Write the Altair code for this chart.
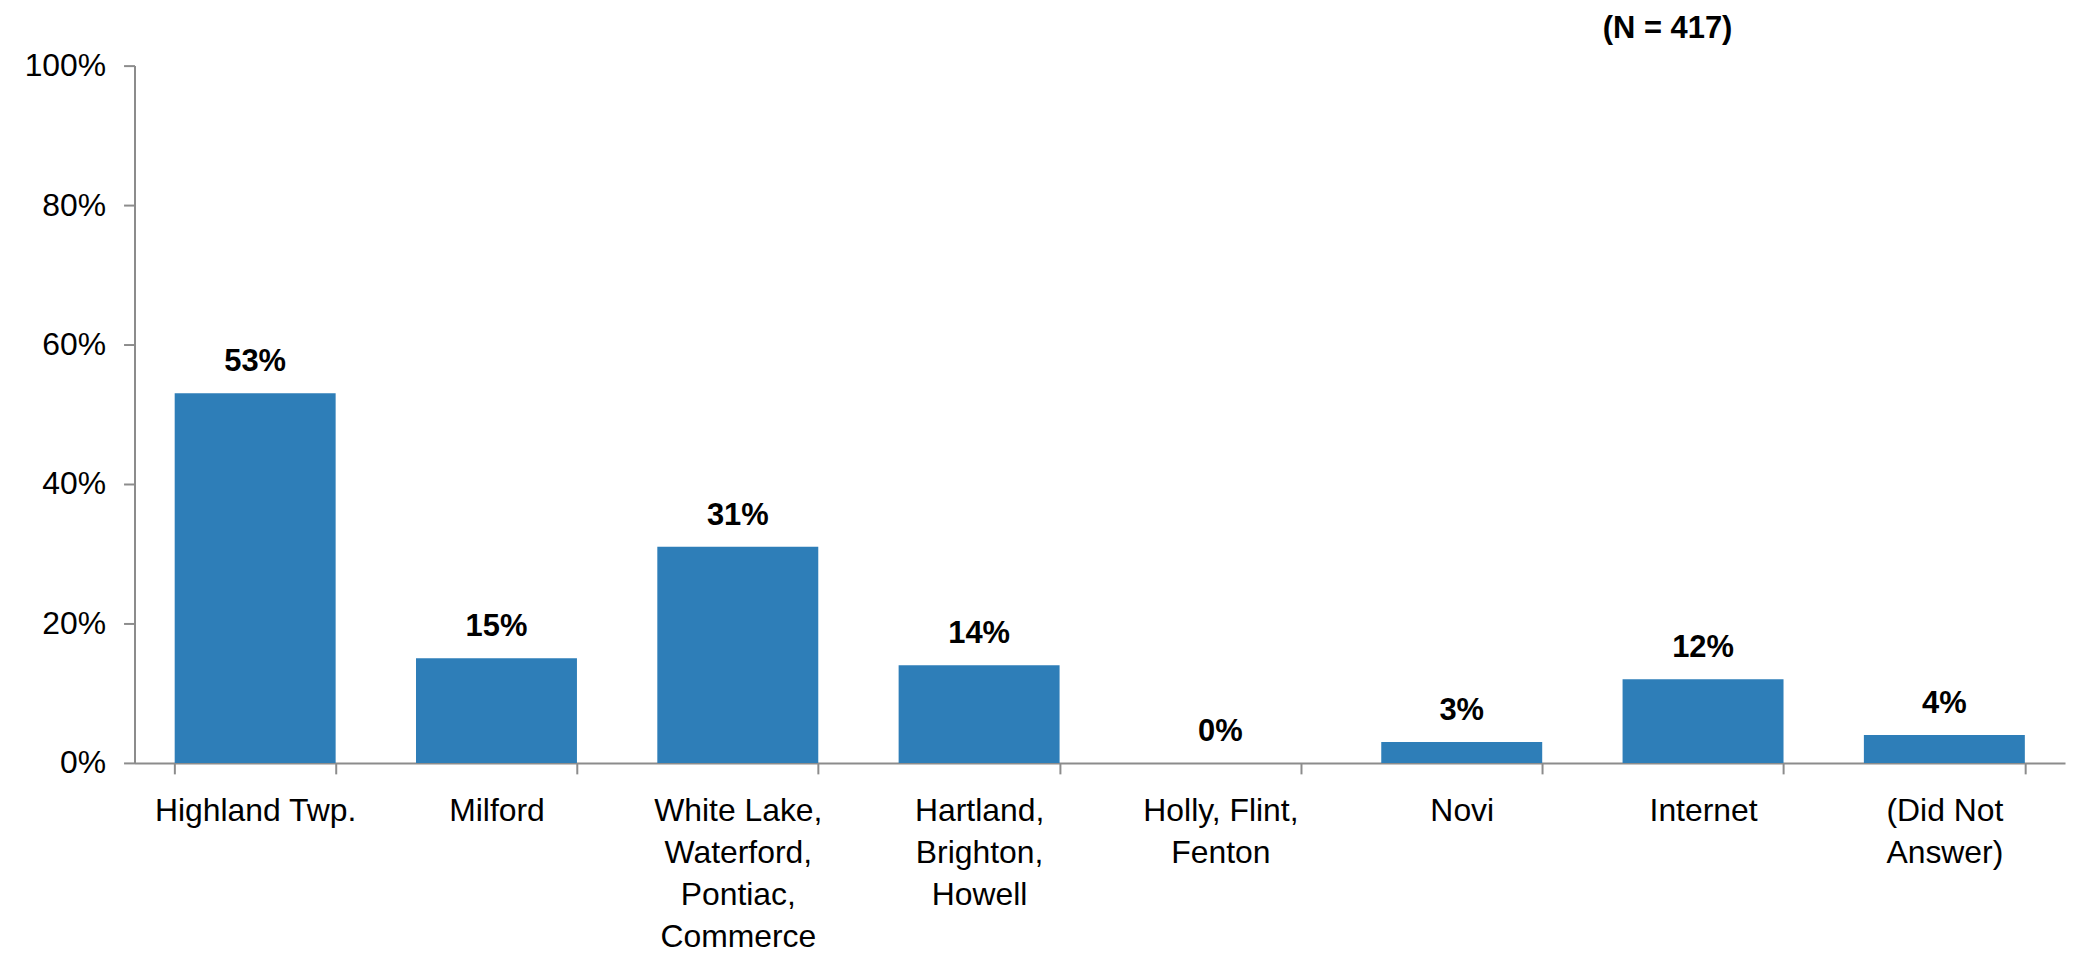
import altair as alt
import pandas as pd

categories = ["Highland Twp.", "Milford", "White Lake,|Waterford,|Pontiac,|Commerce",
              "Hartland,|Brighton,|Howell", "Holly, Flint,|Fenton", "Novi", "Internet",
              "(Did Not|Answer)"]
values = [53, 15, 31, 14, 0, 3, 12, 4]
value_labels = ["53%", "15%", "31%", "14%", "0%", "3%", "12%", "4%"]
y_ticks = [0, 20, 40, 60, 80, 100]
note = "(N = 417)"

df = pd.DataFrame({"cat": categories, "val": values, "lbl": value_labels})

FONT = "Liberation Sans"
AX = "#8c8c8c"

x = alt.X("cat:N", sort=categories, title=None,
          scale=alt.Scale(paddingInner=0.333, paddingOuter=0.1665),
          axis=alt.Axis(labelAngle=0, labelExpr="split(datum.label, '|')",
                        labelFont=FONT, labelFontSize=32, labelColor="black",
                        labelLineHeight=42, labelBaseline="alphabetic", labelPadding=47,
                        tickSize=11, tickColor=AX, tickWidth=2, tickBand="extent",
                        domainColor=AX, domainWidth=2, labelLimit=400))

y = alt.Y("val:Q", title=None,
          scale=alt.Scale(domain=[0, 100], nice=False),
          axis=alt.Axis(values=y_ticks, labelExpr="datum.value + '%'",
                        labelFont=FONT, labelFontSize=32, labelColor="black",
                        labelPadding=18, tickSize=11, tickColor=AX, tickWidth=2,
                        domainColor=AX, domainWidth=2, grid=False))

bars = alt.Chart(df).mark_bar(color="#2E7EB8").encode(x=x, y=y)

texts = alt.Chart(df).mark_text(font=FONT, fontSize=31, fontWeight="bold",
                                baseline="alphabetic", dy=-22, color="black").encode(
    x=alt.X("cat:N", sort=categories), y=alt.Y("val:Q"), text="lbl:N")

note_df = pd.DataFrame({"t": [note]})
note_mark = alt.Chart(note_df).mark_text(font=FONT, fontSize=31, fontWeight="bold",
                                         baseline="alphabetic", align="center",
                                         color="black").encode(
    x=alt.value(1674 - 135), y=alt.value(36 - 64), text="t:N")

chart = alt.layer(bars, texts, note_mark).properties(
    width=1938, height=700,
    autosize=alt.AutoSizeParams(type="none"),
    padding={"left": 127, "top": 56, "right": 4, "bottom": 193},
).configure_view(stroke=None)

chart.save("out.html", embed_options={"renderer": "svg", "actions": False})
